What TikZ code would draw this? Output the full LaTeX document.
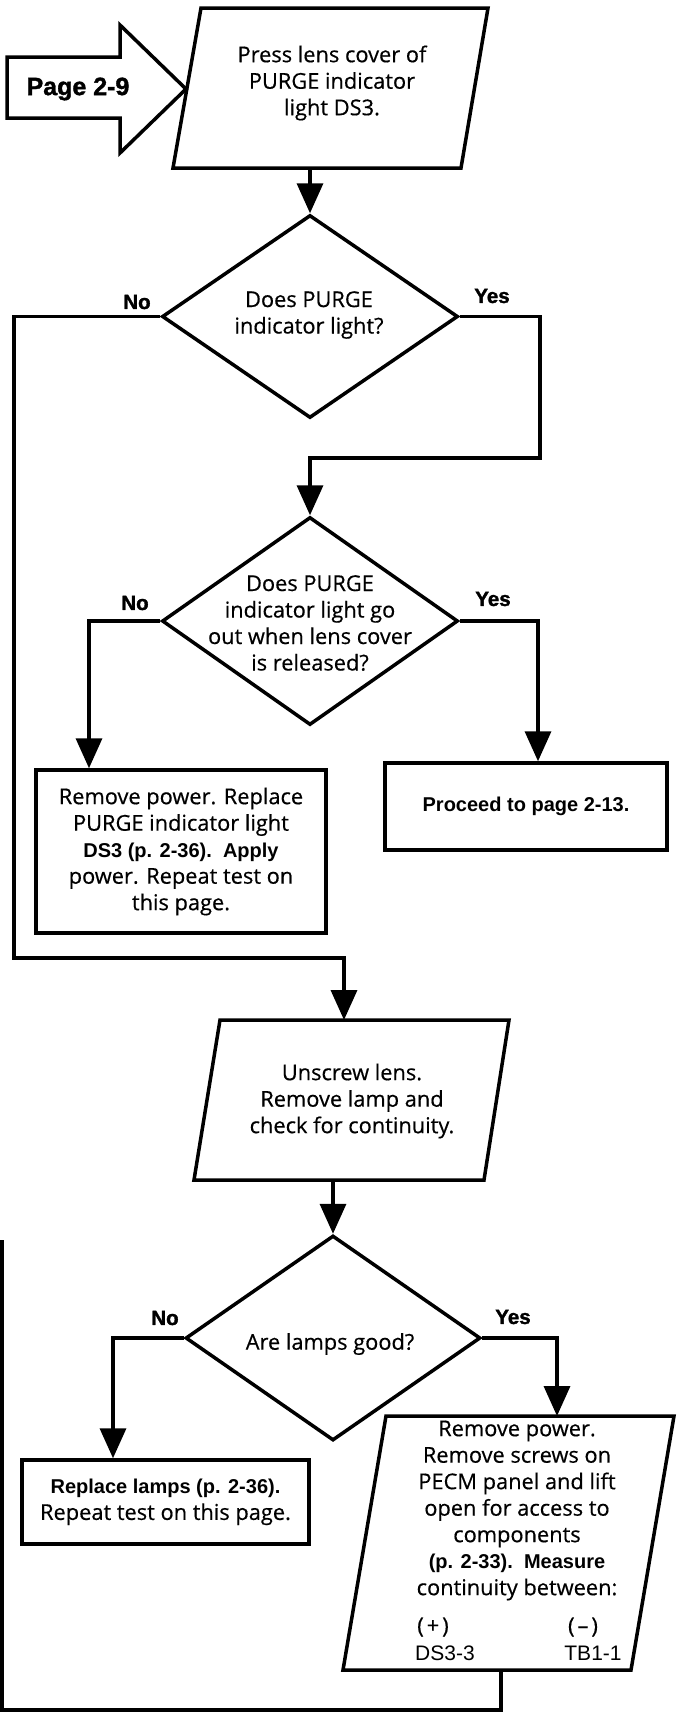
\documentclass[tikz,border=0pt]{standalone}
\usepackage{fontspec}
\setmainfont{Open Sans}
\newfontface\bodyface{Open Sans}[FakeBold=0.5]
\newfontfamily\hv{Liberation Sans}
\newfontfamily\hvheavy{Liberation Sans}[BoldFeatures={FakeBold=1.5}]
\newcommand\hvb{\hv\bfseries\fontsize{20}{26.5}\selectfont}
\usetikzlibrary{shapes.geometric,arrows.meta}
\tikzset{
  body/.style={font=\bodyface\fontsize{21.8}{26.5}\selectfont, align=center, inner sep=0pt},
  outline/.style={draw=black, line width=3.5pt, line join=miter},
  procbox/.style={outline, rectangle, inner sep=0pt, font=\bodyface\fontsize{21.8}{26.5}\selectfont, align=center},
  decision/.style={outline, diamond, inner sep=0pt},
  answer/.style={font=\hvheavy\bfseries\fontsize{20.5}{22}\selectfont, inner sep=0pt},
  terminal/.style={font=\hv\fontsize{21}{24}\selectfont, inner sep=0pt},
  flow/.style={line width=3.5pt, line join=miter, -{Triangle[length=30pt,width=26pt]}},
  wire/.style={line width=3.5pt, line join=miter},
}
\begin{document}
\begin{tikzpicture}[x=1pt,y=-1pt]
\useasboundingbox (0,0) rectangle (677,1717);

% entry arrow from the previous page
\draw[outline] (7,57) -- (120,57) -- (120,25) -- (186,89) -- (120,153) -- (120,118) -- (7,118) -- cycle;
\node[font=\hvheavy\bfseries\fontsize{25}{28}\selectfont, inner sep=0pt] (entry) at (78,89) {Page 2-9};

% input/output parallelograms: corner points
\coordinate (p1nw) at (201,8);    \coordinate (p1ne) at (488,8);
\coordinate (p1se) at (461,168);  \coordinate (p1sw) at (173,168);
\coordinate (p2nw) at (220,1020); \coordinate (p2ne) at (509,1020);
\coordinate (p2se) at (484,1180); \coordinate (p2sw) at (194,1180);
\coordinate (p3nw) at (386,1416); \coordinate (p3ne) at (674,1416);
\coordinate (p3se) at (631,1670); \coordinate (p3sw) at (343,1670);
\draw[outline] (p1nw) -- (p1ne) -- (p1se) -- (p1sw) -- cycle;
\draw[outline] (p2nw) -- (p2ne) -- (p2se) -- (p2sw) -- cycle;
\draw[outline] (p3nw) -- (p3ne) -- (p3se) -- (p3sw) -- cycle;

% shapes and texts
\node[body] (p1t) at (332,83) {Press lens cover of\\PURGE indicator\\light DS3.};

\node[decision, minimum width=296pt, minimum height=203pt] (d1) at (310,316.5) {};
\node[body] (d1t) at (309,315) {Does PURGE\\indicator light?};

\node[decision, minimum width=296pt, minimum height=208pt] (d2) at (310,621) {};
\node[body] (d2t) at (310,623) {Does PURGE\\indicator light go\\out when lens cover\\is released?};

\node[procbox, minimum width=290pt, minimum height=163pt] (b1) at (181,851.5)
  {Remove power. Replace\\PURGE indicator light\\{\hvb DS3 (p. 2-36).\ \ Apply}\\power. Repeat test on\\this page.};

\node[procbox, minimum width=282pt, minimum height=87pt] (b2) at (526,806.5)
  {\hvb Proceed to page 2-13.};

\node[body] (p2t) at (352,1101) {Unscrew lens.\\Remove lamp and\\check for continuity.};

\node[decision, minimum width=295pt, minimum height=205pt] (d3) at (333,1338) {};
\node[body] (d3t) at (330,1344) {Are lamps good?};

\node[procbox, minimum width=287pt, minimum height=84pt] (b3) at (165.5,1502)
  {{\hvb Replace lamps (p. 2-36).}\\Repeat test on this page.};

\node[body] (p3t) at (517,1510.5) {Remove power.\\Remove screws on\\PECM panel and lift\\open for access to\\components\\{\hvb (p. 2-33).\ \ Measure}\\continuity between:};
\node[body] (plus)  at (433,1627) {(\hspace{3pt}+\hspace{3pt})};
\node[body] (minus) at (583,1627) {(\hspace{3pt}–\hspace{3pt})};
\node[terminal] (dsthree) at (445,1653) {DS3-3};
\node[terminal] (tbone)   at (593,1653) {TB1-1};

% answer labels
\node[answer] (no1)  at (137,302)  {No};
\node[answer] (yes1) at (492,296)  {Yes};
\node[answer] (no2)  at (135,603)  {No};
\node[answer] (yes2) at (493,599)  {Yes};
\node[answer] (no3)  at (165,1318) {No};
\node[answer] (yes3) at (513,1317) {Yes};

% routing points
\coordinate (loopA) at (14,958);
\coordinate (xA) at (344,0);
\coordinate (yesA) at (540,458);
\coordinate (xB) at (89,0);
\coordinate (xC) at (538,0);
\coordinate (xD) at (113,0);
\coordinate (xE) at (557,0);
\coordinate (xF) at (501,0);
\coordinate (loopB) at (2,1710);
\coordinate (loopEnd) at (2,1240);

% connectors
\draw[flow] (d1.north |- p1sw) -- (d1.north);
\draw[flow] (d1.west) -| (loopA) -| (xA |- p2nw);
\draw[flow] (d1.east) -| (yesA) -| (d2.north);
\draw[flow] (d2.west) -| (b1.north -| xB);
\draw[flow] (d2.east) -| (b2.north -| xC);
\draw[flow] (d3.north |- p2sw) -- (d3.north);
\draw[flow] (d3.west) -| (b3.north -| xD);
\draw[flow] (d3.east) -| (xE |- p3nw);
\draw[wire] (xF |- p3sw) |- (loopB) -- (loopEnd);
\end{tikzpicture}
\end{document}
